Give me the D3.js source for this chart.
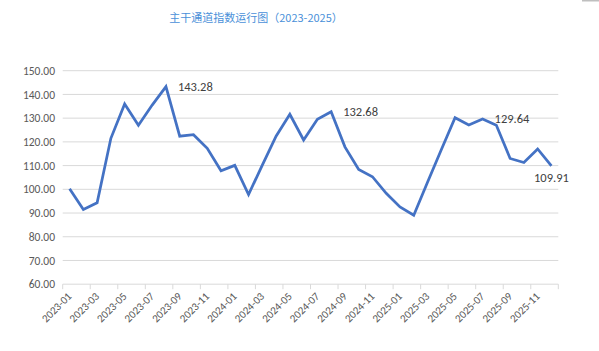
<!DOCTYPE html>
<html lang="zh">
<head>
<meta charset="utf-8">
<title>主干通道指数运行图</title>
<script src="https://cdn.jsdelivr.net/npm/d3@7"></script>
<style>
  body { margin: 0; background: #fff; }
  svg text { font-family: Carlito, "Open Sans", "Liberation Sans", "Noto Sans CJK SC", sans-serif; }
</style>
</head>
<body>
<script>
// months 2023-01 .. 2025-12
var months = [];
[2023, 2024, 2025].forEach(function(y) {
  for (var m = 1; m <= 12; m++) months.push(y + "-" + (m < 10 ? "0" + m : m));
});

var values = [
  100.2, 91.5, 94.3, 121.5, 136.0, 127.0, 135.5, 143.28, 122.4, 123.0, 117.3, 107.8,
  110.1, 97.8, 110.2, 122.4, 131.6, 120.8, 129.5, 132.68, 117.9, 108.4, 105.3, 98.3,
  92.6, 89.1, 103.0, 116.7, 130.2, 127.1, 129.64, 127.0, 113.0, 111.3, 117.0, 109.91
];

var yTicks = [60, 70, 80, 90, 100, 110, 120, 130, 140, 150];

// labelled points: index and placement
var labelled = [
  { i: 7, pos: "right" },
  { i: 19, pos: "right" },
  { i: 30, pos: "right" },
  { i: 35, pos: "below" }
];

var w = 599, h = 351;
var plotL = 62.7, plotR = 558.3, plotT = 70.7, plotB = 284.2;

var svg = d3.select("body").append("svg")
  .attr("width", w)
  .attr("height", h);

// small grey mark in the top right corner
svg.append("rect")
  .attr("x", 582).attr("y", 0)
  .attr("width", 17).attr("height", 1.5)
  .attr("fill", "#bfbfbf");

svg.append("text")
  .attr("x", 256)
  .attr("y", 22)
  .attr("text-anchor", "middle")
  .style("font-family", "'Noto Sans CJK SC', sans-serif")
  .style("font-size", "11px")
  .attr("fill", "#4a90d9")
  .text("主干通道指数运行图（2023-2025）");

var xScale = d3.scaleBand()
  .domain(months)
  .range([plotL, plotR])
  .paddingInner(0)
  .paddingOuter(0);

var yScale = d3.scaleLinear()
  .domain([60, 150])
  .range([plotB, plotT]);

// gridlines
svg.append("g")
  .selectAll("line")
  .data(yTicks.slice(1))
  .enter()
  .append("line")
  .attr("x1", plotL)
  .attr("x2", plotR)
  .attr("y1", function(d) { return yScale(d); })
  .attr("y2", function(d) { return yScale(d); })
  .attr("stroke", "#d9d9d9")
  .attr("stroke-width", 1);

// y labels
var yAxis = d3.axisLeft(yScale)
  .tickValues(yTicks)
  .tickSize(0)
  .tickPadding(0)
  .tickFormat(function(d) { return d.toFixed(2); });

var gy = svg.append("g")
  .attr("transform", "translate(55,0)")
  .call(yAxis);
gy.select(".domain").remove();
gy.selectAll("text")
  .attr("fill", "#595959")
  .style("font-family", "Carlito, 'Open Sans', 'Liberation Sans', sans-serif")
  .style("font-size", "11.5px");

// x axis line and tick marks every two months
svg.append("line")
  .attr("x1", plotL).attr("x2", plotR)
  .attr("y1", plotB).attr("y2", plotB)
  .attr("stroke", "#d9d9d9");

var tickIdx = d3.range(0, 37, 2);
svg.append("g")
  .selectAll("line")
  .data(tickIdx)
  .enter()
  .append("line")
  .attr("x1", function(i) { return plotL + i * xScale.step(); })
  .attr("x2", function(i) { return plotL + i * xScale.step(); })
  .attr("y1", plotB)
  .attr("y2", plotB + 5)
  .attr("stroke", "#d9d9d9");

// x labels, rotated
var xLabels = months.filter(function(d, i) { return i % 2 === 0; });
svg.append("g")
  .selectAll("text")
  .data(xLabels)
  .enter()
  .append("text")
  .attr("transform", function(d) {
    var x = xScale(d) + xScale.bandwidth() / 2;
    return "translate(" + x + "," + (plotB + 10) + ") rotate(-45)";
  })
  .attr("text-anchor", "end")
  .attr("dy", "0.35em")
  .attr("fill", "#595959")
  .style("font-size", "11px")
  .text(function(d) { return d; });

// line
var line = d3.line()
  .x(function(d, i) { return xScale(months[i]) + xScale.bandwidth() / 2; })
  .y(function(d) { return yScale(d); });

svg.append("path")
  .datum(values)
  .attr("d", line)
  .attr("fill", "none")
  .attr("stroke", "#4472c4")
  .attr("stroke-width", 2.75)
  .attr("stroke-linejoin", "miter");

// data labels
svg.append("g")
  .selectAll("text")
  .data(labelled)
  .enter()
  .append("text")
  .attr("x", function(d) {
    var cx = xScale(months[d.i]) + xScale.bandwidth() / 2;
    return d.pos === "right" ? cx + 12 : cx;
  })
  .attr("y", function(d) {
    var cy = yScale(values[d.i]);
    return d.pos === "right" ? cy : cy + 12;
  })
  .attr("dy", "0.35em")
  .attr("text-anchor", function(d) { return d.pos === "right" ? "start" : "middle"; })
  .attr("fill", "#404040")
  .style("font-size", "12.5px")
  .text(function(d) { return values[d.i].toFixed(2); });
</script>
</body>
</html>
